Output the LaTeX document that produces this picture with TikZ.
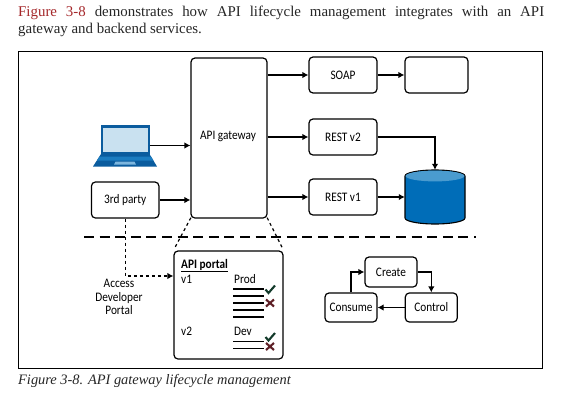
\documentclass[tikz,border=0pt]{standalone}
\usepackage{fontspec}
\setmainfont{Liberation Serif}
\newfontfamily\diag[FakeStretch=0.87]{Carlito}
\usetikzlibrary{arrows.meta}
\definecolor{figred}{HTML}{A5282B}
\definecolor{dbblue}{HTML}{006DB8}
\definecolor{dbtop}{HTML}{4A9BCF}
\definecolor{lapnavy}{HTML}{0B5C9E}
\definecolor{lapscreen}{HTML}{C9E1F0}
\definecolor{lapbar}{HTML}{1B7CC0}
\definecolor{lappad}{HTML}{7DB6DE}
\definecolor{chk}{HTML}{123A2A}
\definecolor{crs}{HTML}{5E1F26}
\tikzset{
  x=1pt,y=-1pt,
  pagetext/.style={inner sep=0pt,anchor=west,font=\fontsize{14.9}{16}\selectfont,text=black!85},
  box/.style={draw=black,line width=1.2pt,rounded corners=4pt,inner sep=0pt,font=\diag\fontsize{13}{15}\selectfont,text=black,align=center},
  lbl/.style={inner sep=0pt,font=\diag\fontsize{13}{15}\selectfont,anchor=west},
  arr/.style={line width=1.2pt,-{Latex[length=6pt,width=6.5pt]}},
  dashline/.style={line width=1.2pt,dash pattern=on 3pt off 3pt},
  rule/.style={line width=1.1pt},
  chkmark/.style={line width=2.1pt,chk},
  crsmark/.style={line width=2.1pt,crs}
}
\begin{document}
\begin{tikzpicture}
\useasboundingbox (0,0) rectangle (563,405);
\fill[white] (0,0) rectangle (563,405);
% page text
\node[pagetext] (para1) at (18,12.5)
  {\hbox to 526pt{\textcolor{figred}{Figure 3-8} demonstrates how API lifecycle management integrates with an API}};
\node[pagetext] (para2) at (18,30) {gateway and backend services.};
\node[pagetext,font=\fontsize{14.4}{16}\selectfont\itshape] (cap) at (18,381) {Figure 3-8. API gateway lifecycle management};
% frame
\node[draw=black,line width=0.9pt,minimum width=524pt,minimum height=317pt,anchor=north west,inner sep=0pt] (frame) at (18,51) {};
% main boxes
\node[box,minimum width=76pt,minimum height=160pt] (gw) at (229,138) {};
\node[inner sep=0pt,font=\diag\fontsize{13}{15}\selectfont] (gwlabel) at (228,136.5) {API gateway};
\node[box,minimum width=67.5pt,minimum height=36pt] (party) at (125.2,200) {3rd party};
\node[box,minimum width=68pt,minimum height=36pt] (soap) at (343,75) {SOAP};
\node[box,minimum width=63pt,minimum height=36pt] (blank) at (436.5,75) {};
\node[box,minimum width=68pt,minimum height=36pt] (rest2) at (343,137) {REST v2};
\node[box,minimum width=68pt,minimum height=36pt] (rest1) at (343,197) {REST v1};
% laptop
\fill[lapnavy] (101,124.5) rectangle (149.5,154.5);
\fill[lapscreen] (102.5,127.5) rectangle (148,151.5);
\fill[lapnavy] (101,154) -- (149.5,154) -- (157,166.5) -- (93,166.5) -- cycle;
\fill[lapbar] (99.5,156.5) -- (151,156.5) -- (153.5,160.5) -- (97,160.5) -- cycle;
\fill[lappad] (115.5,161.5) -- (134.5,161.5) -- (136,164.5) -- (114,164.5) -- cycle;
\coordinate (lapout) at (149.5,145.5);
% database
\node[minimum width=60pt,minimum height=54pt,inner sep=0pt] (db) at (435,197) {};
\draw[fill=dbblue,draw=black,line width=1.1pt] (405,176) -- (405,218) arc[start angle=180,end angle=360,x radius=30,y radius=-6] -- (465,176) arc[start angle=0,end angle=180,x radius=30,y radius=-6] -- cycle;
\fill[dbtop] (405.6,176) arc[start angle=180,end angle=0,x radius=29.4,y radius=5.4] arc[start angle=0,end angle=-180,x radius=29.4,y radius=5.4] -- cycle;
% connectors
\draw[arr] (lapout) -- (lapout -| gw.west);
\draw[arr] (party.east) -- (party.east -| gw.west);
\draw[arr] (gw.east |- soap.west) -- (soap.west);
\draw[arr] (gw.east |- rest2.west) -- (rest2.west);
\draw[arr] (gw.east |- rest1.west) -- (rest1.west);
\draw[arr] (soap.east) -- (blank.west);
\draw[arr] (rest2.east) -| (db.north);
\draw[arr] (rest1.east) -- (db.west);
% divider
\coordinate (divl) at (84,237);
\coordinate (divr) at (476,237);
\draw[line width=1.2pt,dash pattern=on 10pt off 5.6pt] (divl) -- (divr);
% portal
\node[box,minimum width=109pt,minimum height=108pt] (portal) at (228.5,305) {};
\draw[dashline,shorten <=-1pt,shorten >=3pt] (gw.south west) -- (portal.north west);
\draw[dashline,shorten <=-1pt,shorten >=3pt] (gw.south east) -- (portal.north east);
\coordinate (portalin) at (portal.west |- 0,276);
\draw[dashline,-{Latex[length=6pt,width=6.5pt]}] (party.south) |- (portalin);
\node[inner sep=0pt,font=\diag\fontsize{13}{13.4}\selectfont,align=center] (access) at (119,297) {Access\\Developer\\Portal};
\node[lbl,font=\diag\bfseries\fontsize{13}{15}\selectfont] (apip) at (181,265) {API portal};
\draw[line width=0.9pt] (apip.base west |- 0,271) -- (apip.base east |- 0,271);
\node[lbl] (v1) at (181,279.5) {v1};
\node[lbl] (prod) at (234,279) {Prod};
\node[lbl] (v2) at (181,331.5) {v2};
\node[lbl] (dev) at (234,331.5) {Dev};
\foreach \yy in {289,296,303,310,317,341.7,348.3}
  \draw[rule] (233,\yy) -- (264,\yy);
\foreach \yy in {289.5,337}
  \draw[chkmark] (265.5,\yy) -- (268.5,\yy+3.5) -- (275,\yy-4);
\foreach \yy in {303,346.5}
  \draw[crsmark] (266,\yy-3.5) -- (274,\yy+3.5) (274,\yy-3.5) -- (266,\yy+3.5);
% lifecycle
\node[box,minimum width=52pt,minimum height=30pt] (create) at (391,272) {Create};
\node[box,minimum width=52pt,minimum height=29pt] (consume) at (351,307.5) {Consume};
\node[box,minimum width=52pt,minimum height=29pt] (control) at (431.3,307.5) {Control};
\draw[arr] (consume.north) |- (create.west);
\draw[arr] (create.east) -| (control.north);
\draw[arr] (control.west) -- (consume.east);
\end{tikzpicture}
\end{document}
